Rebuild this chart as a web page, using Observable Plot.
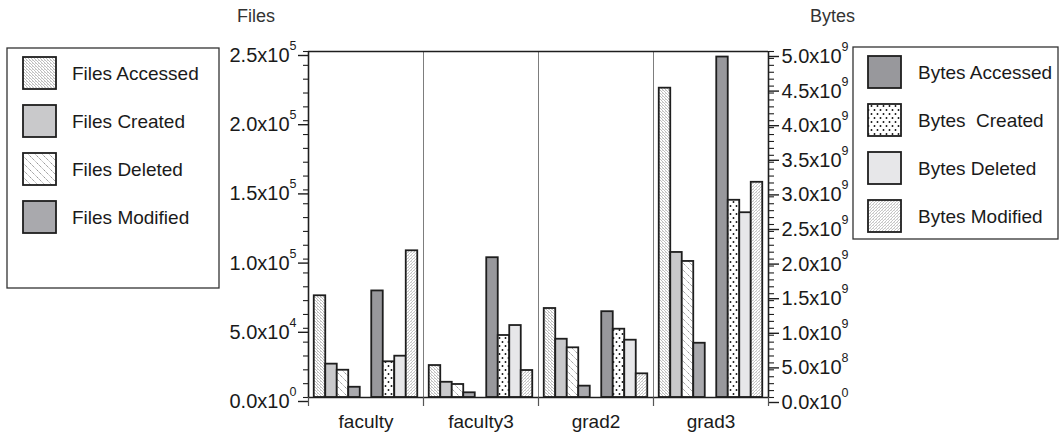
<!DOCTYPE html>
<html>
<head>
<meta charset="utf-8">
<script src="https://cdn.jsdelivr.net/npm/d3@7"></script>
<script src="https://cdn.jsdelivr.net/npm/@observablehq/plot@0.6"></script>
<style>
  body { margin: 0; background: #fff; }
  #chart { position: relative; width: 1061px; height: 433px; font-family: "Liberation Sans", Arial, Helvetica, sans-serif; }
  #chart > svg { position: absolute; left: 0; top: 0; }
</style>
</head>
<body>
<div id="chart"></div>
<script>
// Workload groups and the eight measured series
const categories = ["faculty", "faculty3", "grad2", "grad3"];
const fileSeries = ["Files Accessed", "Files Created", "Files Deleted", "Files Modified"];
const byteSeries = ["Bytes Accessed", "Bytes  Created", "Bytes Deleted", "Bytes Modified"];

// File counts per group (left axis)
const filesAccessed = [73500, 23100, 64300, 223500];
const filesCreated  = [24100, 11000, 42100, 104800];
const filesDeleted  = [19700,  9400, 35900,  98300];
const filesModified = [ 7400,  3400,  8200,  39200];

// Byte totals per group (right axis)
const bytesAccessed = [1.54e9, 2.02e9, 1.24e9, 4.92e9];
const bytesCreated  = [5.16e8, 8.96e8, 9.87e8, 2.85e9];
const bytesDeleted  = [5.97e8, 1.04e9, 8.28e8, 2.67e9];
const bytesModified = [2.12e9, 3.90e8, 3.42e8, 3.11e9];

// Axis extents and tick steps
const filesMax = 2.5e5, filesStep = 5e4, filesMinor = 1e4;
const bytesMax = 5e9,   bytesStep = 5e8, bytesMinor = 1e8;
const bytesPerFile = bytesMax / filesMax; // right axis shares the left axis' pixel scale

const fileValues = [filesAccessed, filesCreated, filesDeleted, filesModified];
const byteValues = [bytesAccessed, bytesCreated, bytesDeleted, bytesModified];

// Each group takes 10 slots: half-slot pad, 4 file bars, 1 gap, 4 byte bars, half-slot pad
const slotsPerGroup = 10;
const rows = [];
categories.forEach((c, ci) => {
  fileValues.forEach((vals, si) =>
    rows.push({category: c, series: fileSeries[si], slot: ci * slotsPerGroup + 0.5 + si, value: vals[ci]}));
  byteValues.forEach((vals, si) =>
    rows.push({category: c, series: byteSeries[si], slot: ci * slotsPerGroup + 5.5 + si, value: vals[ci] / bytesPerFile}));
});

const fills = {
  "Files Accessed": "url(#pat-files-accessed)",
  "Files Created": "#c9c9cb",
  "Files Deleted": "url(#pat-files-deleted)",
  "Files Modified": "#a9a9ad",
  "Bytes Accessed": "#98989c",
  "Bytes  Created": "url(#pat-bytes-created)",
  "Bytes Deleted": "#e7e7e9",
  "Bytes Modified": "url(#pat-bytes-modified)"
};

// "2.5x10^5" style labels; the caret part becomes a superscript afterwards
function sci(v) {
  if (v === 0) return "0.0x10^0";
  const e = Math.floor(Math.log10(v) + 1e-9);
  return (v / Math.pow(10, e)).toFixed(1) + "x10^" + e;
}

const groupEdges = d3.range(0, categories.length + 1).map(i => i * slotsPerGroup);
const groupCenters = categories.map((c, i) => i * slotsPerGroup + slotsPerGroup / 2);
const ink = "#1e1e1e";
const font = "'Liberation Sans', Arial, Helvetica, sans-serif";

const plot = Plot.plot({
  width: 1061,
  height: 433,
  marginLeft: 308,
  marginRight: 293,
  marginTop: 51,
  marginBottom: 36,
  style: {fontSize: "19px", fontFamily: font, color: "#1a1a1a", background: "transparent"},
  x: {domain: [0, categories.length * slotsPerGroup], label: null},
  y: {domain: [0, filesMax], label: null},
  marks: [
    // group dividers
    Plot.ruleX(groupEdges.slice(1, -1), {stroke: "#7d7d7d", strokeWidth: 1}),
    // bars, one mark per series so each keeps its own fill
    ...[...fileSeries, ...byteSeries].map(s =>
      Plot.rectY(rows.filter(r => r.series === s), {
        x1: "slot", x2: r => r.slot + 1, y: "value",
        fill: fills[s], stroke: ink, strokeWidth: 1.8
      })),
    // frame lines
    Plot.ruleX([groupEdges[0], groupEdges[groupEdges.length - 1]], {stroke: ink, strokeWidth: 1.6}),
    Plot.ruleY([0, filesMax], {stroke: ink, strokeWidth: 1.6}),
    // left axis: files
    Plot.axisY({anchor: "left", ticks: d3.range(0, filesMax + 1, filesMinor), tickSize: 5, fill: "none", stroke: ink, strokeWidth: 1.1, label: null}),
    Plot.axisY({anchor: "left", ticks: d3.range(0, filesMax + 1, filesStep), tickSize: 10, tickPadding: 2,
      tickFormat: sci, stroke: ink, strokeWidth: 1.4, dy: 4, fontSize: 20, label: null}),
    // right axis: bytes, expressed on the shared scale
    Plot.axisY({anchor: "right", ticks: d3.range(0, filesMax + 1, bytesMinor / bytesPerFile), tickSize: 5, fill: "none", stroke: ink, strokeWidth: 1.1, label: null}),
    Plot.axisY({anchor: "right", ticks: d3.range(0, filesMax + 1, bytesStep / bytesPerFile), tickSize: 10, tickPadding: 3,
      tickFormat: v => sci(Math.round(v * bytesPerFile)), stroke: ink, strokeWidth: 1.4, dy: 5, fontSize: 20, label: null}),
    // bottom axis: group boundaries and names
    Plot.axisX({ticks: groupEdges, tickSize: 9, fill: "none", stroke: "#555", strokeWidth: 1.2, label: null}),
    Plot.axisX({ticks: groupCenters, tickSize: 0, tickPadding: 17, tickFormat: v => categories[Math.round((v - slotsPerGroup / 2) / slotsPerGroup)], label: null})
  ]
});

// superscript exponents
d3.select(plot).selectAll("text").each(function () {
  const t = this.textContent;
  if (!t.includes("^")) return;
  const [base, exp] = t.split("^");
  const sel = d3.select(this);
  sel.text(base);
  sel.append("tspan").attr("dy", -12).attr("font-size", "12.5px").text(exp);
});

// fill patterns shared by bars and legend swatches
const defs = d3.select(plot).insert("defs", ":first-child");
function hatch(id, size, d, color, width, dash) {
  const p = defs.append("pattern").attr("id", id).attr("patternUnits", "userSpaceOnUse")
    .attr("width", size).attr("height", size);
  p.append("rect").attr("width", size).attr("height", size).attr("fill", "#fff");
  p.append("path").attr("d", d).attr("stroke", color).attr("stroke-width", width)
    .attr("fill", "none").attr("stroke-dasharray", dash);
  return p;
}
// dense dotted back-diagonal texture
hatch("pat-files-accessed", 3, "M-1,-1L4,4M-1,2L1,4M2,-1L4,1", "#8c8c8c", 0.9, "0.9,0.6")
  .append("rect").attr("x", 2).attr("y", 0).attr("width", 0.7).attr("height", 0.7).attr("fill", "#b0b0b0");
// sparse dotted back-diagonal
hatch("pat-files-deleted", 7, "M-1,-1L8,8M-1,6L1,8M6,-1L8,1", "#8a8a8a", 1, "1.4,0.8");
// dense dotted forward-diagonal texture
hatch("pat-bytes-modified", 3, "M-1,4L4,-1M-1,1L1,-1M2,4L4,2", "#9a9a9a", 0.9, "0.9,0.6")
  .append("rect").attr("x", 0).attr("y", 0).attr("width", 0.7).attr("height", 0.7).attr("fill", "#bdbdbd");
{
  const p = defs.append("pattern").attr("id", "pat-bytes-created").attr("patternUnits", "userSpaceOnUse")
    .attr("width", 6).attr("height", 8);
  p.append("rect").attr("width", 6).attr("height", 8).attr("fill", "#fff");
  p.append("circle").attr("cx", 1.5).attr("cy", 2).attr("r", 0.95).attr("fill", "#111");
  p.append("circle").attr("cx", 4.5).attr("cy", 6).attr("r", 0.95).attr("fill", "#111");
}

const chart = document.getElementById("chart");
chart.appendChild(plot);

// axis titles and legends
const overlay = d3.select(chart).append("svg")
  .attr("width", 1061).attr("height", 433)
  .style("pointer-events", "none")
  .attr("font-family", font);

overlay.append("text").attr("x", 237).attr("y", 22).attr("font-size", 18).attr("fill", "#333").text("Files");
overlay.append("text").attr("x", 810).attr("y", 22).attr("font-size", 18).attr("fill", "#333").text("Bytes");

function legend(names, box, swatchX, textX, top) {
  overlay.append("rect").attr("x", box[0]).attr("y", box[1]).attr("width", box[2]).attr("height", box[3])
    .attr("fill", "#fff").attr("stroke", "#333").attr("stroke-width", 1.3);
  names.forEach((n, i) => {
    const y = top + i * 48;
    overlay.append("rect").attr("x", swatchX).attr("y", y).attr("width", 33).attr("height", 32)
      .attr("fill", fills[n]).attr("stroke", ink).attr("stroke-width", 1.8);
    overlay.append("text").attr("x", textX).attr("y", y + 16 + 6.8).attr("font-size", 19)
      .attr("fill", "#1a1a1a").style("white-space", "pre").text(n);
  });
}
legend(fileSeries, [7, 48, 212, 240], 23, 72, 57);
legend(byteSeries, [853, 47, 205, 192], 868, 918, 56);
</script>
</body>
</html>
